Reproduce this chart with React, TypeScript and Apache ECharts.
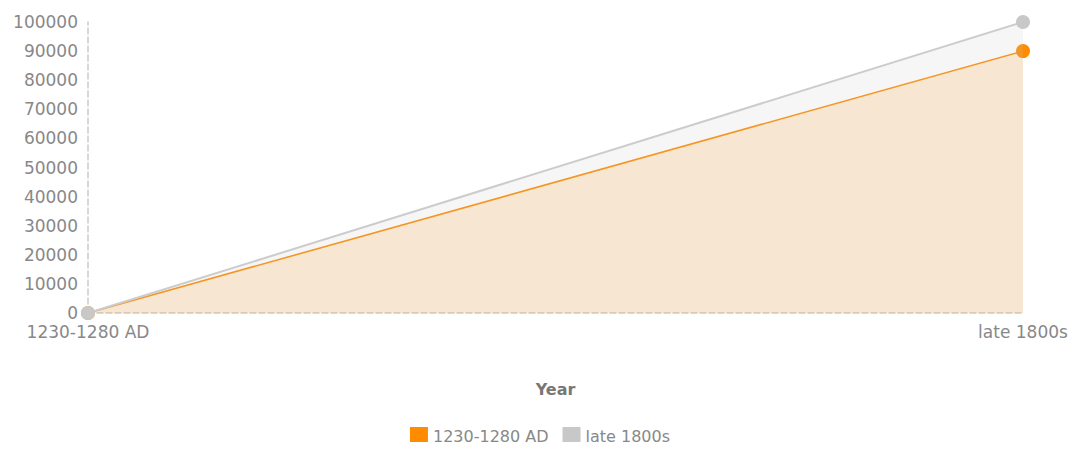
import React, { useEffect, useRef } from "react";
import * as echarts from "echarts";

const categories = ["1230-1280 AD", "late 1800s"];
const seriesNames = ["1230-1280 AD", "late 1800s"];
const orangeValues = [0, 90000];
const grayValues = [0, 100000];
const yTicks = { min: 0, max: 100000, interval: 10000 };

const FONT = "'DejaVu Sans', 'Liberation Sans', Arial, sans-serif";

export default function App() {
  const ref = useRef<HTMLDivElement>(null);
  useEffect(() => {
    if (!ref.current) return;
    const chart = echarts.init(ref.current, null, { renderer: "svg" });
    chart.setOption({
      animation: false,
      textStyle: { fontFamily: FONT },
      grid: { left: 88, right: 57, top: 22, bottom: 137, containLabel: false },
      legend: {
        bottom: 0,
        left: "center",
        itemWidth: 18,
        itemHeight: 18,
        itemGap: 14,
        icon: "rect",
        textStyle: { color: "#888", fontSize: 16, fontFamily: FONT },
        data: seriesNames,
      },
      xAxis: {
        type: "category",
        data: categories,
        boundaryGap: false,
        name: "Year",
        nameLocation: "middle",
        nameGap: 68,
        nameTextStyle: { color: "#777", fontSize: 16, fontWeight: "bold", fontFamily: FONT },
        axisLine: { show: true, lineStyle: { color: "#ccc", type: "dashed", width: 1.5 } },
        axisTick: { show: false },
        axisLabel: { color: "#888", fontSize: 17, lineHeight: 18, margin: 10, fontFamily: FONT },
        splitLine: { show: false },
      },
      yAxis: {
        type: "value",
        min: yTicks.min,
        max: yTicks.max,
        interval: yTicks.interval,
        axisLine: { show: true, lineStyle: { color: "#ccc", type: "dashed", width: 1.5 } },
        axisTick: { show: false },
        axisLabel: {
          color: "#888",
          fontSize: 17,
          lineHeight: 18,
          margin: 10,
          fontFamily: FONT,
          formatter: (v: number) => String(v),
        },
        splitLine: { show: false },
      },
      series: [
        {
          name: seriesNames[0],
          type: "line",
          data: orangeValues,
          symbol: "circle",
          symbolSize: 14,
          itemStyle: { color: "#ff8c00" },
          lineStyle: { color: "#ff8c00", width: 1.6 },
          areaStyle: { color: "rgba(255,140,0,0.24)" },
          z: 2,
        },
        {
          name: seriesNames[1],
          type: "line",
          data: grayValues,
          symbol: "circle",
          symbolSize: 14,
          itemStyle: { color: "#c8c8c8" },
          lineStyle: { color: "#cccccc", width: 2 },
          areaStyle: { color: "rgba(200,200,200,0.24)" },
          z: 3,
        },
      ],
    });
    return () => chart.dispose();
  }, []);
  return <div ref={ref} style={{ width: 1080, height: 450, margin: -8 }} />;
}
